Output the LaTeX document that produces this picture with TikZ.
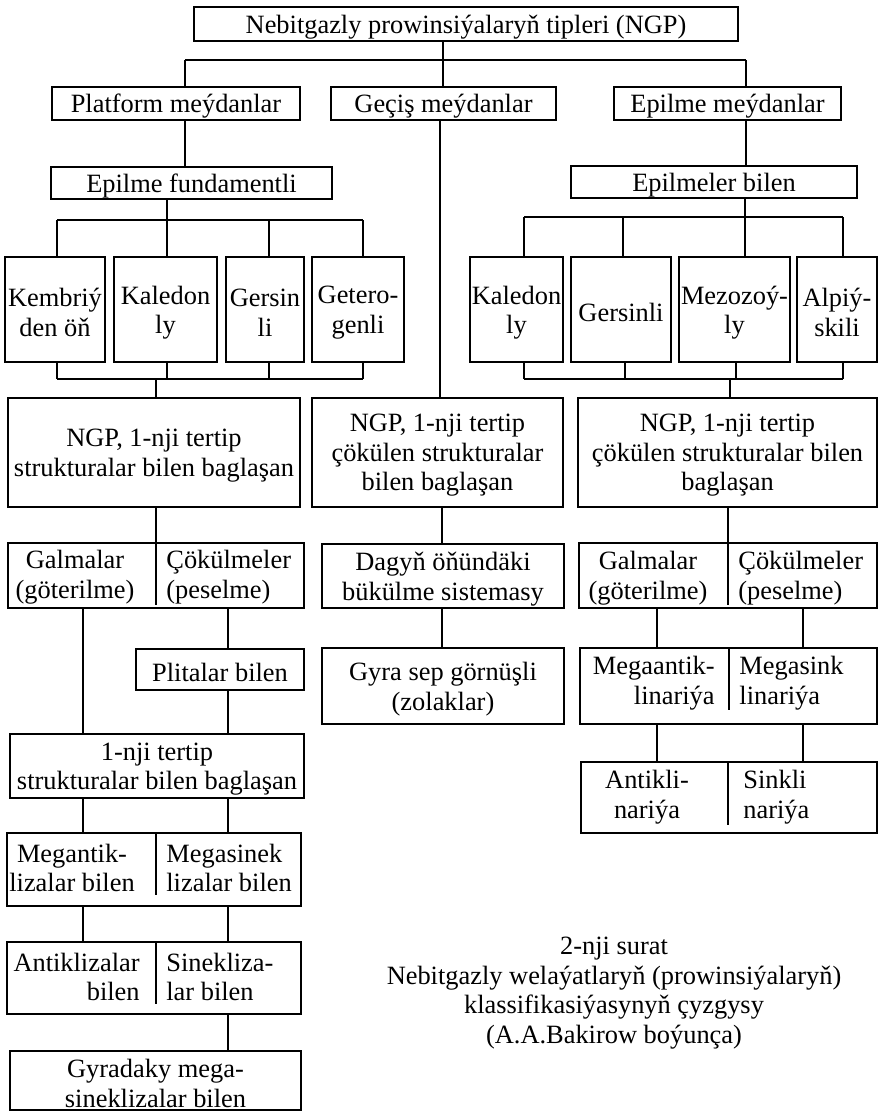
\documentclass[tikz,border=0pt]{standalone}
\usepackage{fontspec}
\setmainfont{Liberation Serif}
\newcommand\fs{\fontsize{13.2}{14.8}\selectfont}
\newcommand\bx[6]{%
  \node[box, minimum width={(#4-#2)*0.5pt}, minimum height={(#5-#3)*0.5pt}] (#1) at ({(#2+#4)/2},{(#3+#5)/2}) {};%
  \node[txt, align=center] (#1-t) at ({(#2+#4)/2},{(#3+#5)/2+3}) {#6};}
\begin{document}
\begin{tikzpicture}[x=0.5pt,y=-0.5pt,
  box/.style={draw, line width=0.9pt, rectangle, inner sep=0pt},
  txt/.style={inner sep=0pt, font=\fs},
  ln/.style={line width=0.75pt}]
\useasboundingbox (0,0) rectangle (880,1113);

% ---------- boxes ----------
\bx{top}{194}{7}{738}{41}{Nebitgazly prowinsiýalaryň tipleri (NGP)}
\bx{plat}{52}{87}{300}{120}{Platform meýdanlar}
\bx{gec}{331}{87}{556}{120}{Geçiş meýdanlar}
\bx{epm}{614}{87}{841}{120}{Epilme meýdanlar}
\bx{epf}{51}{167}{332}{199}{Epilme fundamentli}
\bx{epb}{571}{166}{857}{198}{Epilmeler bilen}

\bx{k1}{5}{257}{105}{362}{Kembriý\\den öň}
\bx{k2}{114}{257}{217}{362}{Kaledon\\ly}
\bx{k3}{226}{257}{304}{362}{Gersin\\li}
\bx{k4}{312}{257}{404}{362}{Getero-\\genli}

\bx{r1}{470}{257}{563}{362}{Kaledon\\ly}
\bx{r2}{571}{257}{671}{362}{Gersinli}
\bx{r3}{679}{257}{790}{362}{Mezozoý-\\ly}
\bx{r4}{797}{257}{877}{362}{Alpiý-\\skili}

\bx{ngpL}{8}{398}{300}{507}{NGP, 1-nji tertip\\strukturalar bilen baglaşan}
\bx{ngpM}{312}{398}{563}{507}{NGP, 1-nji tertip\\çökülen strukturalar\\bilen baglaşan}
\bx{ngpR}{578}{398}{877}{507}{NGP, 1-nji tertip\\çökülen strukturalar bilen\\baglaşan}

\bx{galL}{8}{543}{304}{608}{}
\bx{dag}{322}{544}{564}{608}{Dagyň öňündäki\\bükülme sistemasy}
\bx{galR}{579}{543}{877}{608}{}

\bx{plit}{136}{649}{304}{690}{Plitalar bilen}
\bx{gyra}{322}{648}{564}{724}{Gyra sep görnüşli\\(zolaklar)}
\bx{mega}{580}{648}{877}{724}{}

\bx{one1}{10}{734}{304}{798}{1-nji tertip\\strukturalar bilen baglaşan}
\bx{anti}{581}{762}{877}{833}{}

\bx{megl}{7}{833}{301}{906}{}
\bx{antl}{7}{942}{301}{1014}{}
\bx{gyrad}{10}{1051}{301}{1110}{Gyradaky mega-\\sineklizalar bilen}

% ---------- split-box dividers ----------
\draw[ln] (galL.north -| 156,0) -- (156,605);
\draw[ln] (galR.north -| 728,0) -- (728,605);
\draw[ln] (mega.north -| 729,0) -- (729,710);
\draw[ln] (anti.north -| 728,0) -- (728,825);
\draw[ln] (megl.north -| 156,0) -- (156,895);
\draw[ln] (antl.north -| 156,0) -- (156,1004);

% ---------- split-box texts ----------
\node[txt, align=center] (galLa) at (75,577) {Galmalar\\(göterilme)};
\node[txt, align=left, anchor=west] (galLb) at (166,577) {Çökülmeler\\(peselme)};
\node[txt, align=center] (galRa) at (648,578) {Galmalar\\(göterilme)};
\node[txt, align=left, anchor=west] (galRb) at (738,578) {Çökülmeler\\(peselme)};
\node[txt, align=right, anchor=east] (megaa) at (715,683) {Megaantik-\\linariýa};
\node[txt, align=left, anchor=west] (megab) at (739,683) {Megasink\\linariýa};
\node[txt, align=center] (antia) at (647,797) {Antikli-\\nariýa};
\node[txt, align=left, anchor=west] (antib) at (743,797) {Sinkli\\nariýa};
\node[txt, align=center] (megla) at (72,868) {Megantik-\\lizalar bilen};
\node[txt, align=left, anchor=west] (meglb) at (166,868) {Megasinek\\lizalar bilen};
\node[txt, align=right, anchor=east] (antla) at (140,977) {Antiklizalar\\bilen};
\node[txt, align=left, anchor=west] (antlb) at (166,977) {Sinekliza-\\lar bilen};

% ---------- caption ----------
\node[txt, align=center] (cap) at (614,993) {2-nji surat\\Nebitgazly welaýatlaryň (prowinsiýalaryň)\\klassifikasiýasynyň çyzgysy\\(A.A.Bakirow boýunça)};

% ---------- connectors: top level ----------
\coordinate (bTL) at (185,60);
\coordinate (bTR) at (746,60);
\coordinate (xt) at (443,0);
\draw[ln] (top.south -| xt) -- (gec.north -| xt);
\draw[ln] (bTL) -- (bTR);
\draw[ln] (bTL) -- (bTL |- plat.north);
\draw[ln] (bTR) -- (bTR |- epm.north);
\draw[ln] (plat.south -| bTL) -- (epf.north -| bTL);
\draw[ln] (epm.south -| bTR) -- (epb.north -| bTR);
\coordinate (xg) at (440,0);
\draw[ln] (gec.south -| xg) -- (ngpM.north -| xg);

% ---------- left fan ----------
\coordinate (u1) at (57,220);
\coordinate (u2) at (167,220);
\coordinate (u3) at (269,220);
\coordinate (u4) at (363,220);
\draw[ln] (epf.south -| u2) -- (u2);
\draw[ln] (u1) -- (u4);
\draw[ln] (u1) -- (u1 |- k1.north);
\draw[ln] (u2) -- (u2 |- k2.north);
\draw[ln] (u3) -- (u3 |- k3.north);
\draw[ln] (u4) -- (u4 |- k4.north);
\coordinate (d1) at (57,379);
\coordinate (d4) at (363,379);
\coordinate (dc) at (156,379);
\draw[ln] (d1) -- (d4);
\draw[ln] (k1.south -| u1) -- (d1);
\draw[ln] (k2.south -| u2) -- (u2 |- d1);
\draw[ln] (k3.south -| u3) -- (u3 |- d1);
\draw[ln] (k4.south -| u4) -- (d4);
\draw[ln] (dc) -- (dc |- ngpL.north);

% ---------- right fan ----------
\coordinate (v1) at (524,217);
\coordinate (v2) at (623,217);
\coordinate (v3) at (745,217);
\coordinate (v4) at (843,217);
\draw[ln] (epb.south -| v3) -- (v3);
\draw[ln] (v1) -- (v4);
\draw[ln] (v1) -- (v1 |- r1.north);
\draw[ln] (v2) -- (v2 |- r2.north);
\draw[ln] (v3) -- (v3 |- r3.north);
\draw[ln] (v4) -- (v4 |- r4.north);
\coordinate (w1) at (524,379);
\coordinate (w2) at (625,379);
\coordinate (w3) at (736,379);
\coordinate (w4) at (843,379);
\coordinate (wc) at (730,379);
\draw[ln] (w1) -- (w4);
\draw[ln] (r1.south -| w1) -- (w1);
\draw[ln] (r2.south -| w2) -- (w2);
\draw[ln] (r3.south -| w3) -- (w3);
\draw[ln] (r4.south -| w4) -- (w4);
\draw[ln] (wc) -- (wc |- ngpR.north);

% ---------- lower levels ----------
\coordinate (xa) at (156,0);
\coordinate (xb) at (442,0);
\coordinate (xc) at (728,0);
\draw[ln] (ngpL.south -| xa) -- (galL.north -| xa);
\draw[ln] (ngpM.south -| xb) -- (dag.north -| xb);
\draw[ln] (ngpR.south -| xc) -- (galR.north -| xc);

\coordinate (x83) at (83,0);
\coordinate (x228) at (228,0);
\draw[ln] (galL.south -| x83) -- (one1.north -| x83);
\draw[ln] (galL.south -| x228) -- (plit.north -| x228);
\draw[ln] (plit.south -| x228) -- (one1.north -| x228);
\draw[ln] (dag.south -| xb) -- (gyra.north -| xb);

\coordinate (x657) at (657,0);
\coordinate (x803) at (803,0);
\draw[ln] (galR.south -| x657) -- (mega.north -| x657);
\draw[ln] (galR.south -| x803) -- (mega.north -| x803);
\draw[ln] (mega.south -| x657) -- (anti.north -| x657);
\draw[ln] (mega.south -| x803) -- (anti.north -| x803);

\draw[ln] (one1.south -| x83) -- (megl.north -| x83);
\draw[ln] (one1.south -| x228) -- (megl.north -| x228);
\draw[ln] (megl.south -| x83) -- (antl.north -| x83);
\draw[ln] (megl.south -| x228) -- (antl.north -| x228);
\draw[ln] (antl.south -| x228) -- (gyrad.north -| x228);
\end{tikzpicture}
\end{document}
